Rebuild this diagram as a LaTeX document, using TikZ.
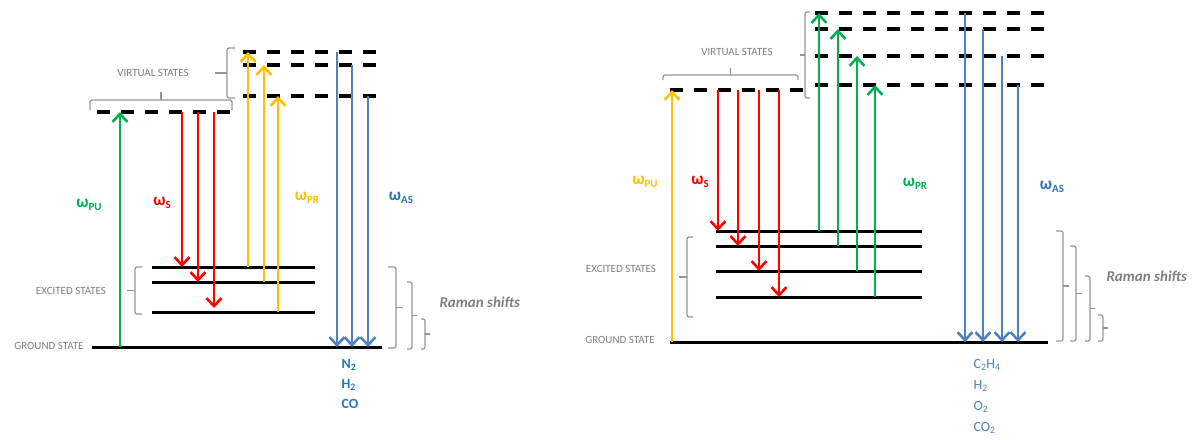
\documentclass[tikz,border=0pt]{standalone}
\usepackage{fontspec}
\setmainfont{Carlito}
\usetikzlibrary{arrows.meta}
\definecolor{cgreen}{RGB}{0,176,80}
\definecolor{cred}{RGB}{255,0,0}
\definecolor{cyellow}{RGB}{255,192,0}
\definecolor{cblue}{RGB}{79,129,189}
\definecolor{cbluet}{RGB}{46,117,182}
\definecolor{cgray}{RGB}{128,128,128}
\definecolor{cbrace}{RGB}{150,150,150}
\newcommand{\wlab}[1]{ω\raisebox{-0.35ex}{\fontsize{11}{11}\selectfont #1}}
% vertical bracket: x_end, x_line, y_top, y_bot, x_tick
\newcommand{\mybrV}[5]{\draw[brc] (#1,#3) -- (#2,#3) -- (#2,#4) -- (#1,#4);
  \draw[brc] (#2,{(#3+#4)/2}) -- (#5,{(#3+#4)/2});}
% horizontal bracket (tip up): x1, x2, y_end, y_line, y_tick
\newcommand{\mybrH}[5]{\draw[brc] (#1,#3) -- (#1,#4) -- (#2,#4) -- (#2,#3);
  \draw[brc] ({(#1+#2)/2},#4) -- ({(#1+#2)/2},#5);}
\begin{document}
\begin{tikzpicture}[x=1pt,y=-1pt,
  lvl/.style={line width=3pt, black},
  vlvl/.style={line width=3.5pt, black, dash pattern=on 13pt off 11pt},
  arr/.style={line width=2.6pt, -{Straight Barb[length=8pt,width=15pt]}},
  brc/.style={draw=cbrace, line width=1.2pt, rounded corners=2pt},
  gtext/.style={text=cgray, font=\fontsize{11}{11}\selectfont},
  wtext/.style={font=\bfseries\fontsize{17}{17}\selectfont},
  mol/.style={text=cbluet, font=\bfseries\fontsize{14}{20}\selectfont, anchor=north west, align=left},
  ram/.style={text=cgray, font=\bfseries\itshape\fontsize{15}{15}\selectfont, anchor=west}]
\useasboundingbox (0,0) rectangle (1199,439);
\fill[white] (0,0) rectangle (1199,439);

% ================= LEFT DIAGRAM =================
% levels
\draw[lvl] (92,347) -- (382,347);
\foreach \y in {267,282,312} \draw[lvl] (152,\y) -- (315,\y);
\draw[vlvl] (97,112) -- (232,112);
\foreach \y in {52,65,96} \draw[vlvl] (243,\y) -- (378,\y);
% arrows
\draw[arr, cgreen] (120,347) -- (120,112);
\draw[arr, cred] (182,112) -- (182,267);
\draw[arr, cred] (198,112) -- (198,282);
\draw[arr, cred] (214,112) -- (214,308);
\draw[arr, cyellow] (248,267) -- (248,52);
\draw[arr, cyellow] (264,282) -- (264,65);
\draw[arr, cyellow] (278,312) -- (278,96);
\draw[arr, cblue] (337,52) -- (337,347);
\draw[arr, cblue] (352,65) -- (352,347);
\draw[arr, cblue] (368,96) -- (368,347);
% brackets
\mybrH{90}{232}{110}{100}{92}
\mybrV{235}{227}{48}{98}{215}
\mybrV{142}{135}{267}{314}{127}
\mybrV{388}{396}{267}{348}{403}
\mybrV{407}{412}{282}{349}{417}
\mybrV{421}{425}{319}{349}{430}
% labels
\node[gtext] (lvs) at (153,73) {VIRTUAL STATES};
\node[gtext] (les) at (71,291) {EXCITED STATES};
\node[gtext] (lgs) at (49,346) {GROUND STATE};
\node[wtext, text=cgreen] (lpu) at (89,205) {\wlab{PU}};
\node[wtext, text=cred] (ls) at (162,203) {\wlab{S}};
\node[wtext, text=cyellow] (lpr) at (307,198) {\wlab{PR}};
\node[wtext, text=cbluet] (las) at (401,198) {\wlab{AS}};
\node[ram] (lram) at (436,302) {Raman shifts};
\node[mol] (lmol) at (338,356) {N\textsubscript{2}\\H\textsubscript{2}\\CO};

% ================= RIGHT DIAGRAM =================
\draw[lvl] (670,342) -- (1048,342);
\foreach \y in {231,246,271,297} \draw[lvl] (716,\y) -- (922,\y);
\draw[vlvl] (670,90) -- (805,90);
\foreach \y in {13,29,56,85} \draw[vlvl] (815,\y) -- (1045,\y);
% arrows
\draw[arr, cyellow] (672,342) -- (672,90);
\draw[arr, cred] (718,90) -- (718,231);
\draw[arr, cred] (738,90) -- (738,246);
\draw[arr, cred] (759,90) -- (759,271);
\draw[arr, cred] (779,90) -- (779,297);
\draw[arr, cgreen] (819,231) -- (819,13);
\draw[arr, cgreen] (838,246) -- (838,29);
\draw[arr, cgreen] (857,271) -- (857,56);
\draw[arr, cgreen] (875,297) -- (875,85);
\draw[arr, cblue] (965,13) -- (965,342);
\draw[arr, cblue] (983,29) -- (983,342);
\draw[arr, cblue] (1002,56) -- (1002,342);
\draw[arr, cblue] (1018,85) -- (1018,342);
% brackets
\mybrH{663}{798}{80}{75}{68}
\mybrV{810}{805}{12}{98}{800}
\mybrV{693}{687}{237}{317}{679}
\mybrV{1056}{1063}{231}{341}{1069}
\mybrV{1070}{1076}{246}{341}{1082}
\mybrV{1085}{1090}{276}{341}{1095}
\mybrV{1098}{1103}{315}{341}{1108}
% labels
\node[gtext] (rvs) at (737,52) {VIRTUAL STATES};
\node[gtext] (res) at (621,269) {EXCITED STATES};
\node[gtext] (rgs) at (620,340) {GROUND STATE};
\node[wtext, text=cyellow] (rpu) at (645,182) {\wlab{PU}};
\node[wtext, text=cred] (rs) at (700,182) {\wlab{S}};
\node[wtext, text=cgreen] (rpr) at (915,184) {\wlab{PR}};
\node[wtext, text=cbluet] (ras) at (1052,187) {\wlab{AS}};
\node[ram] (rram) at (1103,276) {Raman shifts};
\node[mol, text=cblue, font=\fontsize{14}{21}\selectfont] (rmol) at (970,356) {C\textsubscript{2}H\textsubscript{4}\\H\textsubscript{2}\\O\textsubscript{2}\\CO\textsubscript{2}};
\end{tikzpicture}
\end{document}
